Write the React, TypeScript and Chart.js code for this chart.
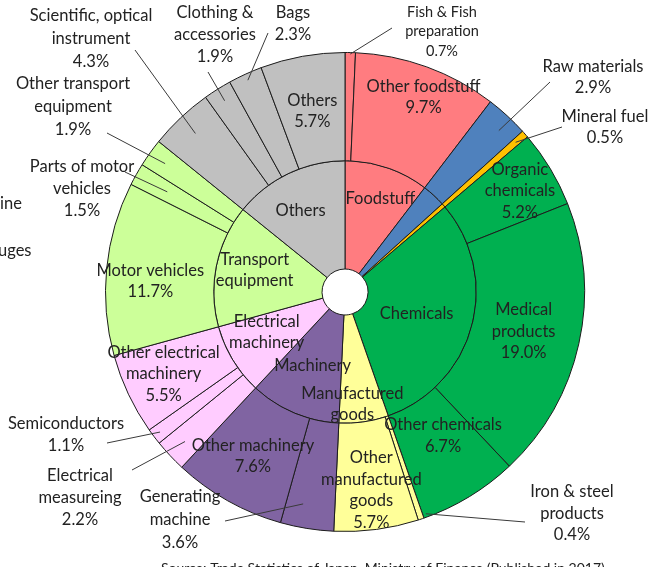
import React, { useEffect, useRef } from 'react';
import { Chart, registerables } from 'chart.js';

Chart.register(...registerables);

// ---------- data ----------
const categories = [
  'Foodstuff', 'Raw materials', 'Mineral fuel', 'Chemicals', 'Manufactured goods',
  'Machinery', 'Electrical machinery', 'Transport equipment', 'Others',
];
const categoryColors = [
  '#FF7C80', '#4F81BD', '#FFC000', '#00B050', '#FFFF99',
  '#8064A2', '#FFCCFF', '#CCFF99', '#C0C0C0',
];

const items = [
  'Fish & Fish preparation', 'Other foodstuff', 'Raw materials', 'Mineral fuel',
  'Organic chemicals', 'Medical products', 'Other chemicals',
  'Iron & steel products', 'Other manufactured goods',
  'Generating machine', 'Other machinery',
  'Electrical measureing', 'Semiconductors', 'Other electrical machinery',
  'Motor vehicles', 'Parts of motor vehicles', 'Other transport equipment',
  'Scientific, optical instrument', 'Clothing & accessories', 'Bags', 'Others',
];
const itemValues = [
  0.7, 9.7, 2.9, 0.5,
  5.2, 19.0, 6.7,
  0.4, 5.7,
  3.6, 7.6,
  2.2, 1.1, 5.5,
  11.7, 1.5, 1.9,
  4.3, 1.9, 2.3, 5.7,
];
const itemCategory = [0, 0, 1, 2, 3, 3, 3, 4, 4, 5, 5, 6, 6, 6, 7, 7, 7, 8, 8, 8, 8];

const categoryValues = categories.map((_, ci) =>
  itemValues.reduce((s, v, i) => (itemCategory[i] === ci ? s + v : s), 0)
);

// ---------- label layout (text only, anchored on arc geometry) ----------
type InLabel = { idx: number; lines: string[]; r: number; dA: number };
const innerLabels: InLabel[] = [
  { idx: 0, lines: ['Foodstuff'], r: 100, dA: 2 },
  { idx: 3, lines: ['Chemicals'], r: 75, dA: 2 },
  { idx: 4, lines: ['Manufactured', 'goods'], r: 112, dA: 4.5 },
  { idx: 5, lines: ['Machinery'], r: 80, dA: 1 },
  { idx: 6, lines: ['Electrical', 'machinery'], r: 88, dA: 4 },
  { idx: 7, lines: ['Transport', 'equipment'], r: 93, dA: 2 },
  { idx: 8, lines: ['Others'], r: 93, dA: -3 },
];
const outerInLabels: InLabel[] = [
  { idx: 20, lines: ['Others', '5.7%'], r: 184, dA: 0 },
  { idx: 1, lines: ['Other foodstuff', '9.7%'], r: 210, dA: 2 },
  { idx: 4, lines: ['Organic', 'chemicals', '5.2%'], r: 202, dA: 1 },
  { idx: 5, lines: ['Medical', 'products', '19.0%'], r: 183, dA: 0 },
  { idx: 6, lines: ['Other chemicals', '6.7%'], r: 174, dA: -3 },
  { idx: 8, lines: ['Other', 'manufactured', 'goods', '5.7%'], r: 200, dA: 0 },
  { idx: 10, lines: ['Other machinery', '7.6%'], r: 188, dA: 0 },
  { idx: 13, lines: ['Other electrical', 'machinery', '5.5%'], r: 199, dA: 1 },
  { idx: 14, lines: ['Motor vehicles', '11.7%'], r: 195, dA: -2.5 },
];
type Callout = {
  idx: number; lines: string[]; tx: number; ty: number; lh: number; size: number;
  lx: number; ly: number; r: number; dA: number;
};
const callouts: Callout[] = [
  { idx: 17, lines: ['Scientific, optical', 'instrument', '4.3%'], tx: 91, ty: 16, lh: 23, size: 16.5, lx: 135, ly: 50, r: 218, dA: 0 },
  { idx: 18, lines: ['Clothing &', 'accessories', '1.9%'], tx: 215, ty: 13, lh: 22, size: 16.5, lx: 208, ly: 72, r: 226, dA: 0 },
  { idx: 19, lines: ['Bags', '2.3%'], tx: 293, ty: 13, lh: 22, size: 16.5, lx: 268, ly: 33, r: 233, dA: 0 },
  { idx: 0, lines: ['Fish & Fish', 'preparation', '0.7%'], tx: 442, ty: 12, lh: 19.5, size: 14.5, lx: 392, ly: 28, r: 238, dA: 0 },
  { idx: 2, lines: ['Raw materials', '2.9%'], tx: 593, ty: 67, lh: 21, size: 16.5, lx: 550, ly: 82, r: 223, dA: 1 },
  { idx: 3, lines: ['Mineral fuel', '0.5%'], tx: 605, ty: 117, lh: 21, size: 16.5, lx: 562, ly: 127, r: 227, dA: 0 },
  { idx: 16, lines: ['Other transport', 'equipment', '1.9%'], tx: 73, ty: 84, lh: 23, size: 16.5, lx: 107, ly: 133, r: 221, dA: 0 },
  { idx: 15, lines: ['Parts of motor', 'vehicles', '1.5%'], tx: 82, ty: 167, lh: 22, size: 16.5, lx: 125, ly: 172, r: 204, dA: 0 },
  { idx: 12, lines: ['Semiconductors', '1.1%'], tx: 66, ty: 424, lh: 22, size: 16.5, lx: 107, ly: 443, r: 232, dA: 0 },
  { idx: 11, lines: ['Electrical', 'measureing', '2.2%'], tx: 80, ty: 476, lh: 22, size: 16.5, lx: 132, ly: 470, r: 219, dA: 0 },
  { idx: 9, lines: ['Generating', 'machine', '3.6%'], tx: 180, ty: 497, lh: 23, size: 16.5, lx: 225, ly: 521, r: 216, dA: 2 },
  { idx: 7, lines: ['Iron & steel', 'products', '0.4%'], tx: 572, ty: 492, lh: 21.5, size: 16.5, lx: 525, ly: 522, r: 236, dA: -1.5 },
];

const FONT = 'Lato, "Open Sans", sans-serif';
const TEXT = '#222222';
const SIZE = 16.5;

const labelPlugin = {
  id: 'sunburstLabels',
  afterDatasetsDraw(chart: any) {
    const ctx: CanvasRenderingContext2D = chart.ctx;
    const outer = chart.getDatasetMeta(0).data;
    const inner = chart.getDatasetMeta(1).data;
    const pos = (el: any, r: number, dA: number) => {
      const p = el.getProps(['x', 'y', 'startAngle', 'endAngle'], true);
      const a = (p.startAngle + p.endAngle) / 2 + (dA * Math.PI) / 180;
      return { x: p.x + r * Math.cos(a), y: p.y + r * Math.sin(a) };
    };
    ctx.save();
    ctx.fillStyle = TEXT;
    ctx.textAlign = 'center';
    ctx.textBaseline = 'middle';
    const drawBlock = (lines: string[], x: number, y: number, lh: number) => {
      const y0 = y - ((lines.length - 1) * lh) / 2;
      lines.forEach((t, i) => ctx.fillText(t, x, y0 + i * lh));
    };
    ctx.font = `${SIZE}px ${FONT}`;
    innerLabels.forEach((l) => {
      const p = pos(inner[l.idx], l.r, l.dA);
      drawBlock(l.lines, p.x, p.y, 21);
    });
    outerInLabels.forEach((l) => {
      const p = pos(outer[l.idx], l.r, l.dA);
      drawBlock(l.lines, p.x, p.y, 21.5);
    });
    // callouts
    ctx.strokeStyle = '#3a3a3a';
    ctx.lineWidth = 1;
    callouts.forEach((c) => {
      const p = pos(outer[c.idx], c.r, c.dA);
      ctx.beginPath();
      ctx.moveTo(c.lx, c.ly);
      ctx.lineTo(p.x, p.y);
      ctx.stroke();
      ctx.font = `${c.size}px ${FONT}`;
      c.lines.forEach((t, i) => ctx.fillText(t, c.tx, c.ty + i * c.lh));
    });
    // cropped fragments at the edges of the original picture
    ctx.font = `${SIZE}px ${FONT}`;
    ctx.textAlign = 'left';
    ctx.fillText('ine', 0, 204);
    ctx.fillText('uges', -2, 251);
    ctx.textBaseline = 'alphabetic';
    ctx.font = `14px ${FONT}`;
    ctx.fillText('Source: Trade Statistics of Japan, Ministry of Finance (Published in 2017)', 161, 573);
    ctx.restore();
  },
};

export default function App() {
  const ref = useRef<HTMLCanvasElement | null>(null);
  useEffect(() => {
    if (!ref.current) return;
    const chart = new Chart(ref.current, {
      type: 'doughnut',
      data: {
        labels: items,
        datasets: [
          {
            label: 'Items',
            data: itemValues,
            backgroundColor: itemCategory.map((c) => categoryColors[c]),
            borderColor: '#1c1c1c',
            borderWidth: 1,
          },
          {
            label: 'Categories',
            data: categoryValues,
            backgroundColor: categoryColors,
            borderColor: '#1c1c1c',
            borderWidth: 1,
          },
        ],
      },
      options: {
        animation: false,
        responsive: false,
        maintainAspectRatio: false,
        cutout: '9.6%',
        events: [],
        layout: { padding: { left: 105, right: 77, top: 52, bottom: 35 } },
        plugins: { legend: { display: false }, tooltip: { enabled: false } },
      },
      plugins: [labelPlugin],
    } as any);
    return () => chart.destroy();
  }, []);
  return (
    <div style={{ position: 'fixed', left: 0, top: 0, width: 662, height: 567, background: '#fff' }}>
      <canvas ref={ref} width={662} height={567} style={{ display: 'block', width: 662, height: 567 }} />
    </div>
  );
}
